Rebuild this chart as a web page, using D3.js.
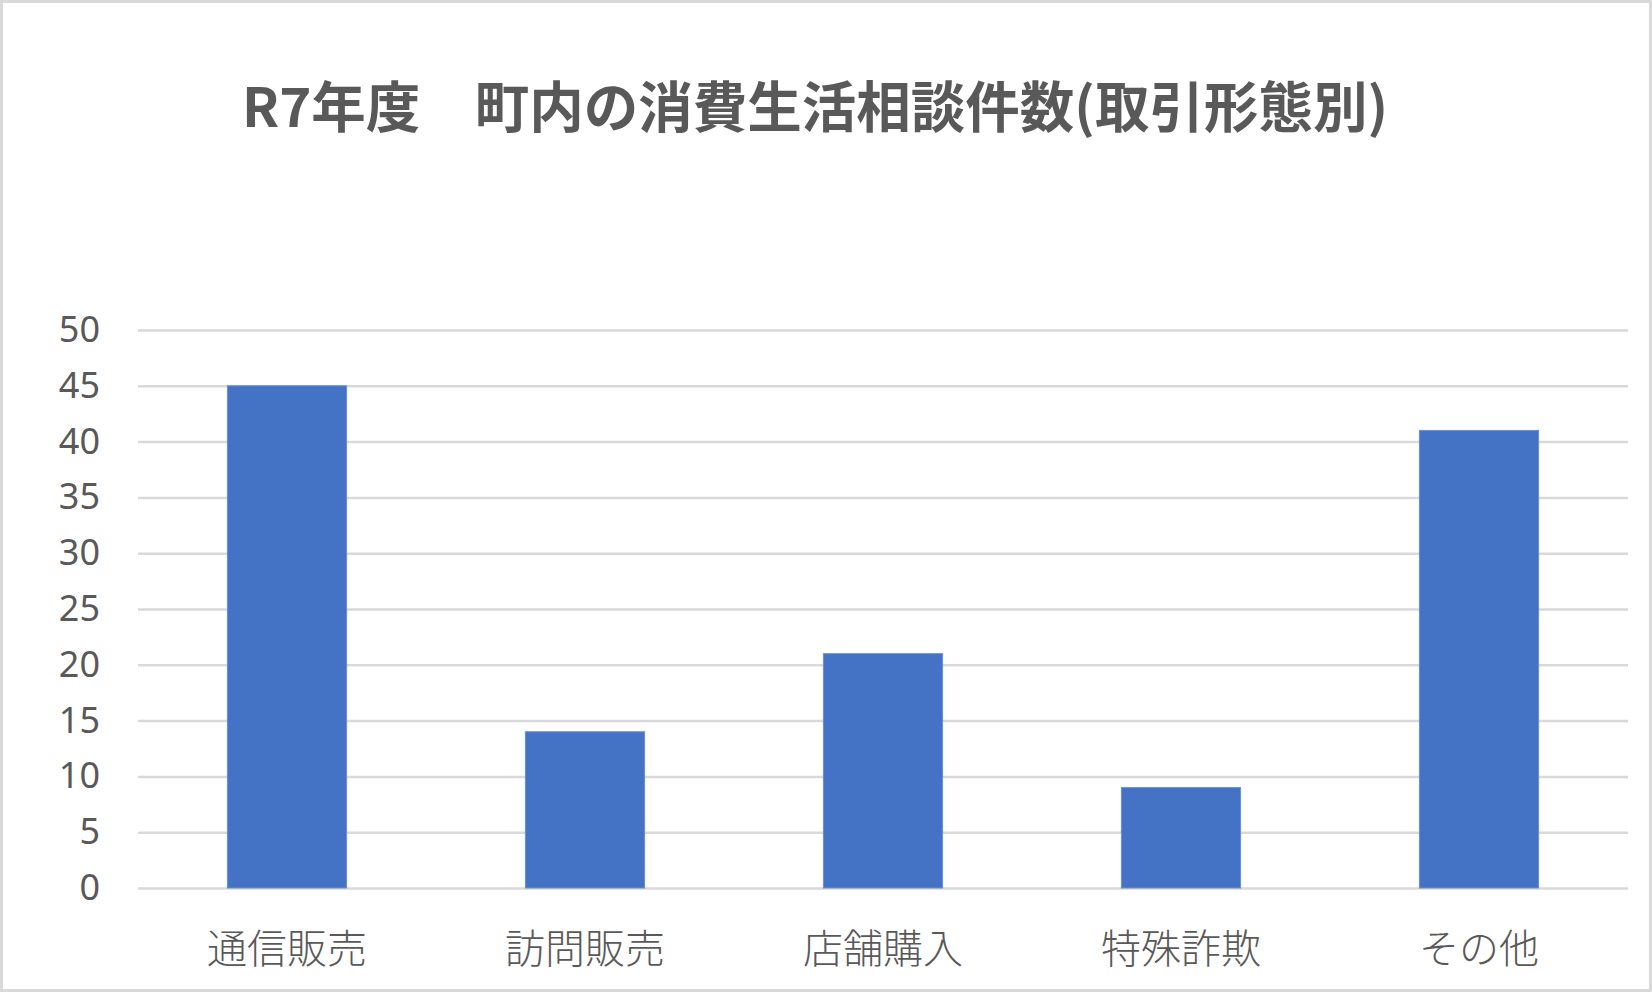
<!DOCTYPE html>
<html>
<head>
<meta charset="utf-8">
<script src="https://cdn.jsdelivr.net/npm/d3@7"></script>
<style>
  html, body { margin: 0; padding: 0; background: #fff; }
  svg { display: block; }
</style>
</head>
<body>
<div id="chart"></div>
<script>
// データ
var categories = ["通信販売", "訪問販売", "店舗購入", "特殊詐欺", "その他"];
var counts = [45, 14, 21, 9, 41];
var yTicks = [0, 5, 10, 15, 20, 25, 30, 35, 40, 45, 50];
var titleText = "R7年度\u3000町内の消費生活相談件数(取引形態別)";

var width = 1652, height = 992;
var plotLeft = 138, plotRight = 1628, plotTop = 330, plotBottom = 888;
var textColor = "#595959";
var jpFont = "'Noto Sans CJK JP', 'Noto Sans', sans-serif";

var svg = d3.select("#chart").append("svg")
  .attr("width", width)
  .attr("height", height);

svg.append("rect")
  .attr("width", width)
  .attr("height", height)
  .attr("fill", "#fff");

// 枠線
svg.append("rect")
  .attr("x", 1.5).attr("y", 1.5)
  .attr("width", width - 3).attr("height", height - 3)
  .attr("fill", "none")
  .attr("stroke", "#d9d9d9")
  .attr("stroke-width", 3);

var x = d3.scaleBand()
  .domain(categories)
  .range([plotLeft, plotRight])
  .paddingInner(0.6)
  .paddingOuter(0.3);

var y = d3.scaleLinear()
  .domain([0, 50])
  .range([plotBottom, plotTop]);

// 目盛線
var grid = svg.append("g")
  .attr("transform", "translate(" + plotLeft + ",0)")
  .call(d3.axisRight(y).tickValues(yTicks).tickSize(plotRight - plotLeft).tickFormat(""));
grid.select(".domain").remove();
grid.selectAll("line")
  .attr("stroke", "#d9d9d9")
  .attr("stroke-width", 2.5);

// 縦軸ラベル
var yAxis = svg.append("g")
  .attr("transform", "translate(" + plotLeft + ",0)")
  .call(d3.axisLeft(y).tickValues(yTicks).tickSize(0).tickPadding(38));
yAxis.select(".domain").remove();
yAxis.selectAll("text")
  .attr("font-family", "'Noto Sans', sans-serif")
  .attr("font-size", "36px")
  .attr("fill", textColor);

// 棒
svg.append("g").selectAll("rect.bar")
  .data(counts)
  .enter()
  .append("rect")
  .attr("class", "bar")
  .attr("x", function(d, i) { return x(categories[i]); })
  .attr("width", x.bandwidth())
  .attr("y", function(d) { return y(d); })
  .attr("height", function(d) { return y(0) - y(d); })
  .attr("fill", "#4472c4")
  .attr("stroke", "#6a8fd2")
  .attr("stroke-width", 1);

// 横軸ラベル
var xAxis = svg.append("g")
  .attr("transform", "translate(0," + plotBottom + ")")
  .call(d3.axisBottom(x).tickSize(0).tickPadding(47));
xAxis.select(".domain").remove();
xAxis.selectAll("text")
  .attr("font-family", jpFont)
  .attr("font-weight", 300)
  .attr("font-size", "40px")
  .attr("fill", textColor);

// タイトル
svg.append("text")
  .attr("x", 815)
  .attr("y", 127)
  .attr("text-anchor", "middle")
  .attr("font-family", jpFont)
  .attr("font-weight", "bold")
  .attr("font-size", "54.5px")
  .attr("fill", textColor)
  .text(titleText);
</script>
</body>
</html>
